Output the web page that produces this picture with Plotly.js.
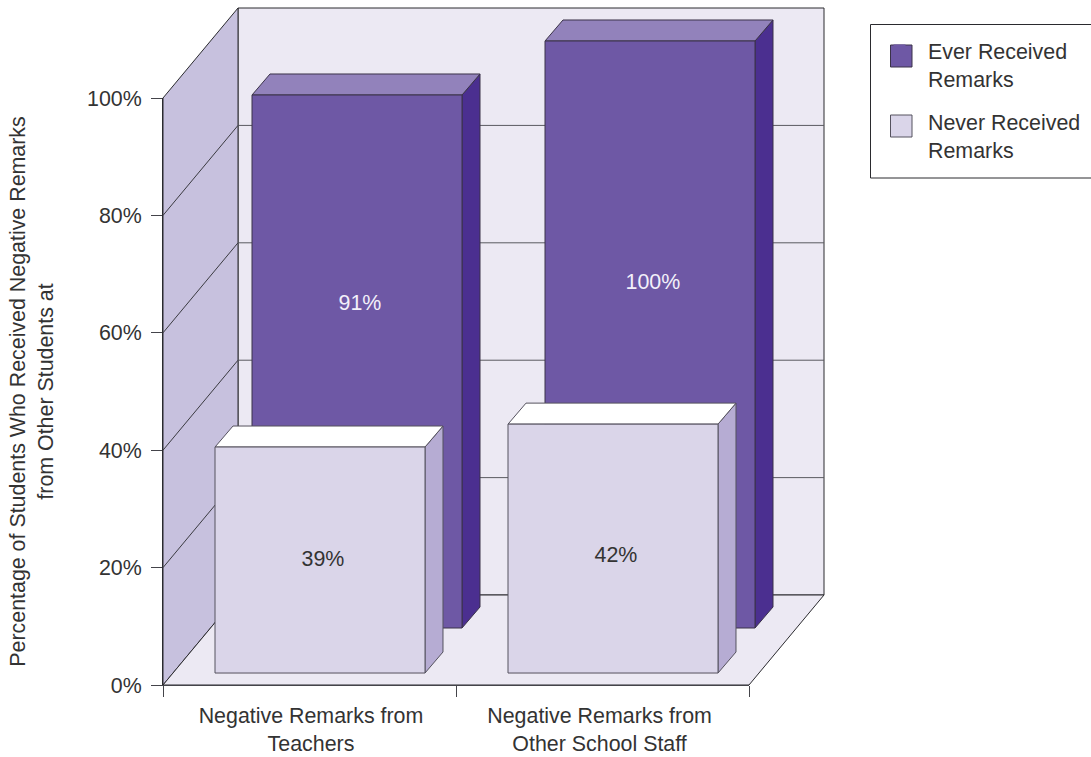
<!DOCTYPE html>
<html>
<head>
<meta charset="utf-8">
<script src="https://cdn.plot.ly/plotly-3.0.1.min.js"></script>
<style>html,body{margin:0;padding:0;background:#fff;overflow:hidden}#chart{width:1091px;height:757px}</style>
</head>
<body>
<div id="chart"></div>
<script>
const categories = ['Negative Remarks from<br>Teachers', 'Negative Remarks from<br>Other School Staff'];
const seriesNames = ['Ever Received<br>Remarks', 'Never Received<br>Remarks'];
const everReceived = [90.8, 100];
const neverReceived = [38.5, 42.4];
const everLabels = ['91%', '100%'];
const neverLabels = ['39%', '42%'];
const yTicks = [0, 20, 40, 60, 80, 100];
const gridValues = [20, 40, 60, 80];

// Scale: 1 category = 293 px, 1% = 5.87 px. Drawing axes carry a small pad so edges are not clipped.
const UX = 293, UY = 5.87;
const L = 160, R = 828, T = 5, B = 688, W = R - L, H = B - T;
const X0 = 163, Y0 = 685;
const px = x => (x - L) / W, py = y => (B - y) / H;

const wall = {dx: 0.256, dy: 15.33};
const ever = {left: 0.3038, width: 0.7167, base: 9.71, dx: 0.0614, dy: 3.58,
  front: '#6e58a5', top: '#9282bb', side: '#4b2f90', edge: '#3a3248', text: '#f3f0fa', labelAt: [0.606, 0.586]};
const never = {left: 0.1775, width: 0.7167, base: 2.04, dx: 0.0614, dy: 3.58,
  front: '#dad5e9', top: '#ffffff', side: '#b6acd3', edge: '#55525e', text: '#333333', labelAt: [0.499, 0.466]};
const FONT = 'Liberation Sans, Arial, sans-serif';
const FS = 21.4;
const TXT = '#333333';
const DARK = '#2a2a2e';

const traces = [];
function poly(xs, ys, fill, edge, w) {
  traces.push({type:'scatter', mode:'lines', x:xs.concat(xs[0]), y:ys.concat(ys[0]), fill:'toself', fillcolor:fill,
    line:{color:edge, width:w===undefined?1:w}, hoverinfo:'skip', showlegend:false});
}
function path(xs, ys, color, w) {
  traces.push({type:'scatter', mode:'lines', x:xs, y:ys, line:{color:color, width:w}, hoverinfo:'skip', showlegend:false});
}
const n = categories.length;
// back wall, side wall, floor
poly([wall.dx, n+wall.dx, n+wall.dx, wall.dx], [wall.dy, wall.dy, 100+wall.dy, 100+wall.dy], '#ece9f3', DARK);
poly([0, wall.dx, wall.dx, 0], [0, wall.dy, 100+wall.dy, 100], '#c7c1de', DARK);
poly([0, n, n+wall.dx, wall.dx], [0, 0, wall.dy, wall.dy], '#ece9f3', DARK);
// gridlines on the walls
gridValues.forEach(v => {
  path([wall.dx, n+wall.dx], [v+wall.dy, v+wall.dy], '#5a5a60', 1);
  path([0, wall.dx], [v, v+wall.dy], '#3a3a40', 1);
});
function bars(values, s) {
  values.forEach((v, i) => {
    const x0 = i + s.left, x1 = x0 + s.width, y0 = s.base, y1 = s.base + v;
    poly([x1, x1+s.dx, x1+s.dx, x1], [y0, y0+s.dy, y1+s.dy, y1], s.side, s.edge);
    poly([x0, x1, x1+s.dx, x0+s.dx], [y1, y1, y1+s.dy, y1+s.dy], s.top, s.edge);
    poly([x0, x1, x1, x0], [y0, y0, y1, y1], s.front, s.edge);
  });
}
bars(everReceived, ever);
bars(neverReceived, never);
function labels(values, texts, s) {
  traces.push({type:'scatter', mode:'text', x:values.map((v,i)=>i+s.left+s.width/2+0.01),
    y:values.map((v,i)=>s.base+v*s.labelAt[i]), text:texts, textposition:'middle center',
    textfont:{family:FONT,size:FS,color:s.text}, hoverinfo:'skip', showlegend:false});
}
labels(everReceived, everLabels, ever);
labels(neverReceived, neverLabels, never);
// legend entries
[[seriesNames[0], ever.front],[seriesNames[1], never.front]].forEach((e,i)=>{
  traces.push({type:'scatter', mode:'markers', x:[null], y:[null], name:e[0], legendgroup:'g'+i,
    marker:{symbol:'square', size:12, color:e[1], line:{width:0}}, hoverinfo:'skip'});
});
// carriers for the visible axes
traces.push({type:'scatter', mode:'lines', x:[null], y:[null], xaxis:'x2', yaxis:'y2', showlegend:false, hoverinfo:'skip'});
traces.push({type:'scatter', mode:'lines', x:[null], y:[null], xaxis:'x3', yaxis:'y2', showlegend:false, hoverinfo:'skip'});

const x2Domain = [px(X0), px(X0 + n*UX)];
const y2Domain = [py(Y0), py(Y0 - 100*UY)];
const layout = {
  width:1091, height:757,
  margin:{l:L, r:1091-R, t:T, b:757-B, pad:0, autoexpand:false},
  paper_bgcolor:'#ffffff', plot_bgcolor:'rgba(0,0,0,0)',
  font:{family:FONT, size:FS, color:TXT},
  showlegend:true,
  hovermode:false,
  xaxis:{visible:false, range:[(L-X0)/UX, (R-X0)/UX], fixedrange:true, anchor:'y'},
  yaxis:{visible:false, range:[(Y0-B)/UY, (Y0-T)/UY], fixedrange:true, anchor:'x'},
  xaxis2:{type:'linear', domain:x2Domain, anchor:'y2', range:[0,n], tickmode:'array', tickvals:[0.505,1.49], ticktext:categories, ticks:'', ticklen:0,
    showgrid:false, zeroline:false, showline:true, linecolor:'#44444a', linewidth:1, ticklabelstandoff:11,
    tickfont:{family:FONT,size:FS,color:TXT}, fixedrange:true},
  xaxis3:{type:'linear', range:[0,n], overlaying:'x2', side:'bottom', anchor:'y2', tickmode:'array', tickvals:[0,1,2],
    ticks:'outside', ticklen:11, tickcolor:'#44444a', tickwidth:1, showticklabels:false, showgrid:false, zeroline:false, showline:false, fixedrange:true},
  yaxis2:{domain:y2Domain, anchor:'x2', range:[0,100], tickmode:'array', tickvals:yTicks, ticktext:yTicks.map(v=>v+'%'), ticks:'outside', ticklen:11, tickcolor:'#44444a', tickwidth:1,
    showgrid:false, zeroline:false, showline:true, linecolor:DARK, linewidth:1, automargin:true, ticklabelstandoff:5,
    title:{text:'Percentage of Students Who Received Negative Remarks<br>from Other Students at', font:{family:FONT,size:FS,color:TXT}, standoff:27},
    tickfont:{family:FONT,size:FS,color:TXT}, fixedrange:true},
  legend:{x:px(871), xanchor:'left', y:py(30), yanchor:'top', bgcolor:'rgba(0,0,0,0)', borderwidth:0,
    font:{family:FONT,size:FS,color:TXT}, tracegroupgap:13, valign:'top', itemclick:false, itemdoubleclick:false, itemwidth:47},
  shapes:[
    {type:'rect', xref:'paper', yref:'paper', x0:px(870.5), x1:px(1095), y0:py(178), y1:py(24.5), fillcolor:'#ffffff', line:{color:DARK,width:1}, layer:'below'},
    {type:'rect', xref:'paper', yref:'paper', x0:px(890.5), x1:px(912), y0:py(67), y1:py(45), fillcolor:ever.front, line:{color:'#3a3248',width:1}, layer:'above'},
    {type:'rect', xref:'paper', yref:'paper', x0:px(890.5), x1:px(912), y0:py(137), y1:py(115), fillcolor:never.front, line:{color:'#55525e',width:1}, layer:'above'}
  ]
};
Plotly.newPlot('chart', traces, layout, {displayModeBar:false, responsive:false});
</script>
</body>
</html>
